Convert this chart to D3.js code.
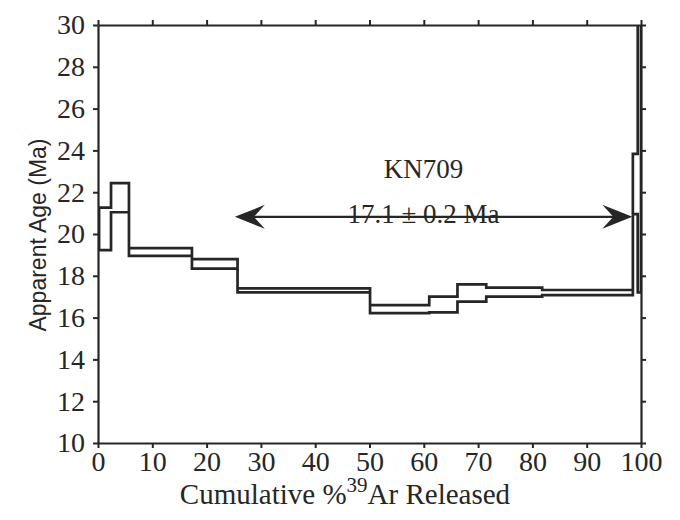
<!DOCTYPE html>
<html><head><meta charset="utf-8">
<script src="https://cdn.jsdelivr.net/npm/d3@7"></script>
<style>body{margin:0;background:#fff}
</style>
</head><body>
<svg id="c" width="680" height="520"></svg>
<script>
// Step boundaries (cumulative % 39Ar) and apparent ages (Ma)
const stepStart = [0.2, 2.4, 5.7, 17.3, 25.7, 50.1, 61.0, 66.2, 71.5, 81.8, 98.5, 99.4];
const stepEnd   = [2.4, 5.7, 17.3, 25.7, 50.1, 61.0, 66.2, 71.5, 81.8, 98.5, 99.4, 100];
const ageLow    = [19.23, 21.04, 18.95, 18.34, 17.21, 16.21, 16.25, 16.76, 17.0, 17.08, 20.95, 17.2];
const ageHigh   = [21.26, 22.43, 19.32, 18.80, 17.40, 16.60, 17.0, 17.59, 17.43, 17.32, 23.83, 32];
const xTicks = [0,10,20,30,40,50,60,70,80,90,100];
const yTicks = [10,12,14,16,18,20,22,24,26,28,30];
const plateau = {from: 25.2, to: 98.4, age: 20.82};
const sampleName = "KN709";
const plateauLabel = "17.1 ± 0.2 Ma";

const SERIF = "Liberation Serif, Tinos, Times New Roman, Times, DejaVu Serif, serif";
const svg = d3.select("#c");
const m = {l:98, r:641, t:25, b:443};
const x = d3.scaleLinear().domain([0,100]).range([m.l, m.r]);
const y = d3.scaleLinear().domain([10,30]).range([m.b, m.t]);
const ink = "#262626";

svg.append("defs").append("clipPath").attr("id","clip")
  .append("rect").attr("x",m.l).attr("y",m.t).attr("width",m.r-m.l).attr("height",m.b-m.t);

// spectrum polygon
const pts = [];
stepStart.forEach((s,i)=>{ pts.push([s,ageHigh[i]]); pts.push([stepEnd[i],ageHigh[i]]); });
for (let i=stepStart.length-1;i>=0;i--){ pts.push([stepEnd[i],ageLow[i]]); pts.push([stepStart[i],ageLow[i]]); }
const line = d3.line().x(d=>x(d[0])).y(d=>y(d[1]));
svg.append("path").attr("d", line(pts)+"Z").attr("fill","none")
  .attr("stroke",ink).attr("stroke-width",2.7).attr("stroke-linejoin","miter")
  .attr("clip-path","url(#clip)");

// axes
function styleAxis(g){
  g.attr("font-family",SERIF).attr("font-size",28);
  g.select(".domain").attr("stroke",ink).attr("stroke-width",2.2);
  g.selectAll(".tick line").attr("stroke",ink).attr("stroke-width",2);
  g.selectAll(".tick text").attr("fill",ink);
}
svg.append("g").attr("transform",`translate(0,${m.b})`)
  .call(d3.axisBottom(x).tickValues(xTicks).tickSize(5).tickSizeOuter(0).tickPadding(3)).call(styleAxis);
svg.append("g").attr("transform",`translate(0,${m.t})`)
  .call(d3.axisTop(x).tickValues(xTicks).tickSize(5).tickSizeOuter(0).tickFormat("")).call(styleAxis);
svg.append("g").attr("transform",`translate(${m.l},0)`)
  .call(d3.axisLeft(y).tickValues(yTicks).tickSize(5).tickSizeOuter(0).tickPadding(8)).call(styleAxis);
svg.append("g").attr("transform",`translate(${m.r},0)`)
  .call(d3.axisRight(y).tickValues(yTicks).tickSize(5).tickSizeOuter(0).tickFormat("")).call(styleAxis);

// labels
svg.append("text").attr("font-family",SERIF).attr("x",345).attr("y",504).attr("text-anchor","middle")
  .attr("fill",ink).attr("font-size",29)
  .call(t=>{ t.append("tspan").text("Cumulative %");
             t.append("tspan").attr("dy",-12).attr("font-size",21).text("39");
             t.append("tspan").attr("dy",12).text("Ar Released"); });
svg.append("text").attr("transform",`translate(46,235) rotate(-90)`)
  .attr("text-anchor","middle").attr("fill",ink)
  .attr("font-family","Liberation Sans, Arimo, Arial, sans-serif").attr("font-size",23)
  .text("Apparent Age (Ma)");

// plateau annotation
const cx = x((plateau.from+plateau.to)/2)-10;
svg.append("text").attr("font-family",SERIF).attr("x",cx).attr("y",178).attr("text-anchor","middle").attr("fill",ink)
  .attr("font-size",27).text(sampleName);
svg.append("text").attr("font-family",SERIF).attr("x",cx).attr("y",223).attr("text-anchor","middle").attr("fill",ink)
  .attr("font-size",27).text(plateauLabel);
const ay = y(plateau.age), x0 = x(plateau.from), x1 = x(plateau.to);
svg.append("line").attr("x1",x0+4).attr("x2",x1-4).attr("y1",ay).attr("y2",ay)
  .attr("stroke",ink).attr("stroke-width",2.4);
function head(tipX, dir){
  const p = d3.path();
  p.moveTo(tipX, ay);
  p.lineTo(tipX+dir*30, ay-12);
  p.lineTo(tipX+dir*19, ay);
  p.lineTo(tipX+dir*30, ay+12);
  p.closePath();
  svg.append("path").attr("d",p.toString()).attr("fill",ink);
}
head(x0, 1); head(x1, -1);
</script>
</body></html>
